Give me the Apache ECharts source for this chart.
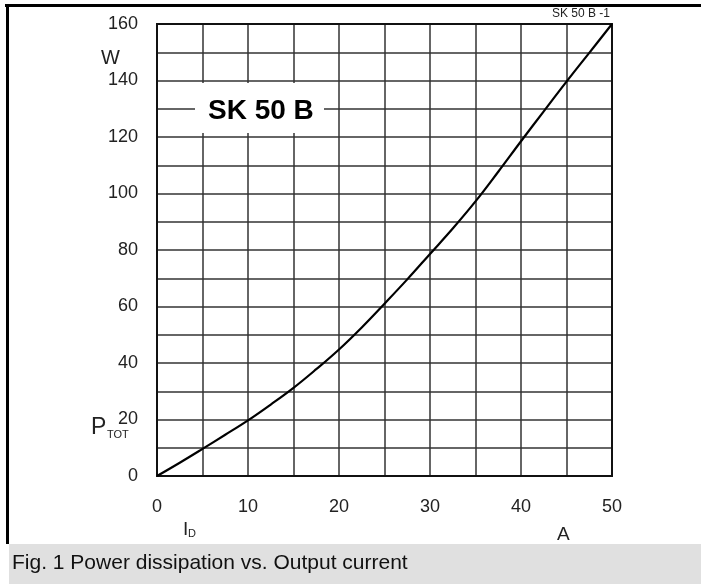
<!DOCTYPE html>
<html><head><meta charset="utf-8">
<script src="https://cdn.jsdelivr.net/npm/echarts@6/dist/echarts.min.js"></script>
<style>html,body{margin:0;padding:0;background:#fff}#c{width:701px;height:584px}</style>
</head><body><div id="c"></div>
<script>
var currentA = [0, 2.5, 5, 7.5, 10, 12.5, 15, 17.5, 20, 22.5, 25, 27.5, 30, 32.5, 35, 37.5, 40, 42.5, 45, 47.5, 50];
var powerW   = [0, 4.7, 9.6, 14.6, 19.7, 25.3, 31.2, 37.8, 44.8, 52.6, 61, 69.6, 78.6, 87.6, 97.2, 107.7, 118.5, 129.1, 139.6, 149.8, 160];
var xTicks = ['0','10','20','30','40','50'];
var yTicks = ['0','20','40','60','80','100','120','140','160'];

var chart = echarts.init(document.getElementById('c'), null, {renderer:'canvas'});
var font = 'Liberation Sans, Arial, Helvetica, sans-serif';
function txt(t, x, y, size, opts){
  opts = opts || {};
  return {type:'text', x:x, y:y, z:101, style:{text:t, font:(opts.bold?'bold ':'')+size+'px '+font,
    fill:opts.fill||'#222', align:opts.align||'left', verticalAlign:'middle'}};
}
chart.setOption({
  animation:false,
  backgroundColor:'#fff',
  grid:{left:157, top:24, width:455, height:452, show:true, borderColor:'#111', borderWidth:2, z:5},
  xAxis:{type:'value', min:0, max:50, interval:5,
    axisLine:{show:false}, axisTick:{show:false},
    splitLine:{show:true, lineStyle:{color:'#333', width:1.5}},
    axisLabel:{margin:22, fontFamily:font, fontSize:18, color:'#222',
      formatter:function(v){return xTicks.indexOf(String(v))>=0?String(v):'';}}},
  yAxis:{type:'value', min:0, max:160, interval:10,
    axisLine:{show:false}, axisTick:{show:false},
    splitLine:{show:true, lineStyle:{color:'#333', width:1.5}},
    axisLabel:{margin:19, fontFamily:font, fontSize:18, color:'#222',
      formatter:function(v){return yTicks.indexOf(String(v))>=0?String(v):'';}}},
  series:[{type:'line', data:currentA.map(function(x,i){return [x,powerW[i]];}),
    smooth:0.4, symbol:'none', z:10, lineStyle:{color:'#000', width:2.2}}],
  graphic:[
    {type:'rect', shape:{x:195, y:83, width:129, height:50}, style:{fill:'#fff'}, z:100},
    txt('SK 50 B', 208, 111, 28, {bold:true, fill:'#000'}),
    txt('SK 50 B -1', 610, 14, 12, {align:'right'}),
    txt('W', 101, 58, 20),
    txt('P', 91, 428, 23),
    txt('TOT', 107, 435, 11),
    txt('I', 183, 530, 19),
    txt('D', 188, 534, 11),
    txt('A', 557, 535, 19),
    {type:'rect', shape:{x:9, y:544, width:692, height:40}, style:{fill:'#e0e0e0'}, z:1},
    {type:'text', x:12, y:563, z:2, style:{text:'Fig. 1 Power dissipation vs. Output current', font:'21px '+font, fill:'#111', verticalAlign:'middle'}},
    {type:'rect', shape:{x:5, y:4, width:696, height:3}, style:{fill:'#000'}, z:100},
    {type:'rect', shape:{x:6, y:4, width:3, height:540}, style:{fill:'#000'}, z:100}
  ]
});
</script></body></html>
